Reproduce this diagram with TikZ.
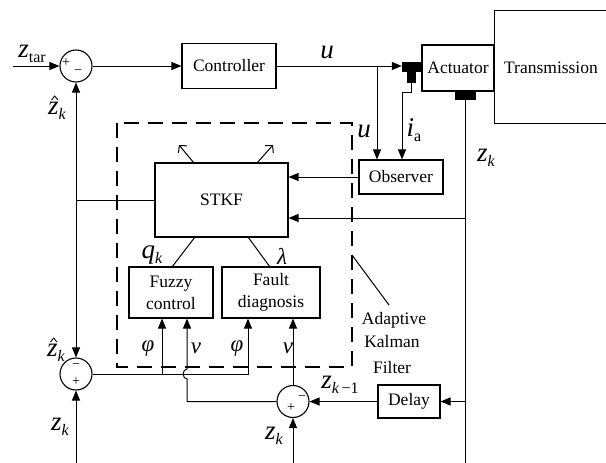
\documentclass[tikz,border=0pt]{standalone}
\usepackage{fontspec}
\setmainfont{Liberation Serif}
\newfontfamily\tnr{Liberation Serif}
\usetikzlibrary{arrows.meta,calc}
\newcommand\bigit[1]{{\tnr\fontsize{27}{27}\selectfont\itshape #1}}
\newcommand\grk[1]{{\tnr\fontsize{23}{23}\selectfont\itshape #1}}
\newcommand\subit[1]{\raisebox{-5pt}{\tnr\fontsize{16}{16}\selectfont\itshape #1}}
\newcommand\subrm[1]{\raisebox{-5pt}{\tnr\fontsize{16}{16}\selectfont #1}}
\begin{document}
\begin{tikzpicture}[x=1pt,y=-1pt,
  ln/.style={line width=1pt},
  arr/.style={ln,-{Triangle[length=10pt,width=8pt]}},
  openarr/.style={ln,-{Straight Barb[length=5pt,width=11pt]}},
  hatmark/.style={line width=0.9pt},
  blk/.style={draw,line width=1.1pt,inner sep=0pt,font=\tnr\fontsize{17.5}{22}\selectfont,align=center},
  sumc/.style={circle,draw,line width=1.1pt,minimum size=32pt,inner sep=0pt},
  sgn/.style={inner sep=0pt,font=\tnr\fontsize{14}{14}\selectfont},
  lab/.style={inner sep=0pt},
  txt/.style={inner sep=0pt,font=\tnr\fontsize{17.5}{21}\selectfont},
  jblk/.style={fill=black,inner sep=0pt}]
\useasboundingbox (0,0) rectangle (606,463);
\clip (0,0) rectangle (606,463);

% blocks
\node[sumc] (s1) at (76,66) {};
\node[sumc] (s2) at (76,374) {};
\node[sumc] (s3) at (293,401.5) {};
\node[sgn] (s1p) at (66,63) {+};
\node[sgn] (s1m) at (78,72) {−};
\node[sgn] (s2m) at (76,366) {−};
\node[sgn] (s2p) at (76,382) {+};
\node[sgn] (s3m) at (302,398) {−};
\node[sgn] (s3p) at (291,408) {+};

\node[blk,minimum width=94pt,minimum height=45pt] (ctrl) at (229,66) {Controller};
\node[jblk,minimum width=19pt,minimum height=10pt] (j1) at (411.5,66.5) {};
\node[jblk,minimum width=9pt,minimum height=11pt,anchor=north] (j1s) at (411.5,71.5) {};
\node[blk,minimum width=72pt,minimum height=46pt] (act) at (458,68) {Actuator};
\node[blk,minimum width=116pt,minimum height=113pt,anchor=north west] (tr) at (494,10) {};
\node[txt] (trl) at (551,68) {Transmission};
\node[jblk,minimum width=21pt,minimum height=9pt] (j2) at (465,95.5) {};
\node[blk,minimum width=84pt,minimum height=34pt] (obs) at (401,177) {Observer};
\node[blk,minimum width=133pt,minimum height=74pt] (stkf) at (221.5,200) {STKF};
\node[blk,minimum width=84pt,minimum height=51pt] (fz) at (171,292.5) {Fuzzy\\control};
\node[blk,minimum width=98pt,minimum height=51pt] (fd) at (271,292.5) {Fault\\diagnosis};
\node[blk,minimum width=62pt,minimum height=33pt] (dly) at (409,401.5) {Delay};

% dashed adaptive Kalman filter frame
\draw[line width=2pt,dash pattern=on 15pt off 9pt] (117,123) rectangle (352,367);
\coordinate (pa) at (352,255);
\coordinate (pb) at (389,305);
\draw[ln] (pa) -- (pb);
\node[txt] (ad) at (394,320) {Adaptive};
\node[txt] (ka) at (392,342) {Kalman};
\node[txt] (fi) at (392,368) {Filter};

% coordinates
\coordinate (zin) at (13,66);
\coordinate (bu) at (377,66);
\coordinate (ia) at (402,92);
\coordinate (zk1) at (465,218);
\coordinate (zd) at (465,401.5);
\coordinate (bR) at (465,463);
\coordinate (bM) at (293,463);
\coordinate (bL) at (76,463);
\coordinate (fb) at (76,200);
\coordinate (c0) at (162,374);
\coordinate (c1) at (248,374);
\coordinate (c2) at (187,401.5);
\coordinate (a1) at (194,163);
\coordinate (o1) at (179,145);
\coordinate (a2) at (257,163);
\coordinate (o2) at (273,145);
\coordinate (b1) at (195,237);
\coordinate (b1e) at (172,267);
\coordinate (b2) at (248,237);
\coordinate (b2e) at (270,267);

% connectors
\draw[arr] (zin) -- (s1.west);
\draw[arr] (s1.east) -- (ctrl.west);
\draw[arr] (ctrl.east) -- (ctrl.east -| j1.west);
\draw[arr] (bu) -- (bu |- obs.north);
\draw[arr] (j1s.south) |- (ia) -- (ia |- obs.north);
\draw[arr] (obs.west) -- (obs.west -| stkf.east);
\draw[arr] (zk1) -- (zk1 -| stkf.east);
\draw[ln] (j2.south) -- (bR) -- (bL);
\draw[arr] (zd) -- (dly.east);
\draw[arr] (dly.west) -- (s3.east);
\draw[arr] (bL) -- (s2.south);
\draw[arr] (bM) -- (s3.south);
\draw[ln] (stkf.west |- fb) -- (fb);
\draw[arr] (fb) -- (s1.south);
\draw[arr] (fb) -- (s2.north);
\draw[openarr] (a1) -- (o1);
\draw[openarr] (a2) -- (o2);
\draw[ln] (b1) -- (b1e);
\draw[ln] (b2) -- (b2e);
\draw[arr] (s2.east) -- (c1) -- (c1 |- fd.south);
\draw[arr] (c0) -- (c0 |- fz.south);
\draw[arr] (s3.north) -- (s3.north |- fd.south);
\draw[arr] (s3.west) -- (c2) -- (187,379) .. controls (182,379) and (182,369) .. (187,369) -- (c2 |- fz.south);

% labels
\node[lab] (lzt) at (32,54) {\bigit{z}\subrm{tar}};
\node[lab,anchor=base west] (lzh1) at (48,114) {\bigit{z}\subit{k}};
\draw[hatmark] ($(lzh1.base west)+(3.5,-14)$) -- ++(3.2,-4) -- ++(3.2,4);
\node[lab] (lu1) at (327,52) {\bigit{u}};
\node[lab] (lu2) at (364,131) {\bigit{u}};
\node[lab] (lia) at (414,130) {\bigit{i}\subrm{a}};
\node[lab] (lzk1) at (486,158) {\bigit{z}\subit{k}};
\node[lab] (lqk) at (152,255) {\bigit{q}\subit{k}};
\node[lab] (llam) at (282,256) {\grk{λ}};
\node[lab] (lph1) at (148,349) {\grk{φ}};
\node[lab] (lnu1) at (196,348) {\grk{ν}};
\node[lab] (lph2) at (237,349) {\grk{φ}};
\node[lab] (lnu2) at (288,348) {\grk{ν}};
\node[lab,anchor=base west] (lzh2) at (47,356) {\bigit{z}\subit{k}};
\draw[hatmark] ($(lzh2.base west)+(3.5,-14)$) -- ++(3.2,-4) -- ++(3.2,4);
\node[lab] (lzk2) at (60,427) {\bigit{z}\subit{k}};
\node[lab] (lzk3) at (274,436) {\bigit{z}\subit{k}};
\node[lab] (lzkm) at (340,385) {\bigit{z}\subit{k}\subrm{\,−1}};
\end{tikzpicture}
\end{document}
